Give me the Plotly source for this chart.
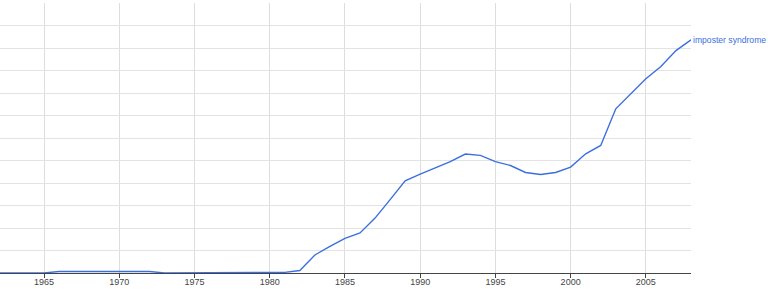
import plotly.graph_objects as go

years = list(range(1962, 2009))
values = [0, 0, 0, 0,
          0.07, 0.07, 0.07, 0.07, 0.07, 0.07, 0.07,
          0, 0, 0, 0, 0, 0, 0, 0,
          0.03, 0.11, 0.80, 1.18, 1.54, 1.78, 2.44, 3.26, 4.10, 4.40,
          4.67, 4.95, 5.29, 5.23, 4.95, 4.78, 4.47, 4.38, 4.47, 4.71,
          5.30, 5.67, 7.30, 7.97, 8.64, 9.18, 9.89, 10.37]
series_name = "imposter syndrome"
tick_years = [1965, 1970, 1975, 1980, 1985, 1990, 1995, 2000, 2005]

line_color = "#3b6fe0"
font_family = "Liberation Sans, Arial, sans-serif"

fig = go.Figure()
fig.add_trace(go.Scatter(x=years, y=values, mode="lines",
                         line=dict(color=line_color, width=1.4),
                         name=series_name, showlegend=False, hoverinfo="skip"))

fig.add_annotation(x=years[-1], y=values[-1], text=series_name,
                   xanchor="left", yanchor="middle", xshift=0, showarrow=False,
                   font=dict(family=font_family, size=8.6, color=line_color))

fig.update_layout(
    width=768, height=289,
    margin=dict(l=0, r=77, t=3, b=16),
    paper_bgcolor="white", plot_bgcolor="white",
    xaxis=dict(range=[1962.07, 2008], tickvals=tick_years,
               ticktext=[str(t) for t in tick_years],
               showgrid=True, gridcolor="#dddddd", gridwidth=1,
               showline=True, linecolor="#444444", linewidth=1,
               ticks="outside", ticklen=4, tickcolor="#444444",
               ticklabelstandoff=-4,
               tickfont=dict(family=font_family, size=9, color="#444444"),
               zeroline=False, fixedrange=True, automargin=False),
    yaxis=dict(range=[0, 12.005], dtick=1, tick0=0, showticklabels=False,
               showgrid=True, gridcolor="#e3e3e3", gridwidth=1,
               zeroline=False, showline=False, ticks="", fixedrange=True,
               automargin=False),
)

fig.write_html("out.html")
